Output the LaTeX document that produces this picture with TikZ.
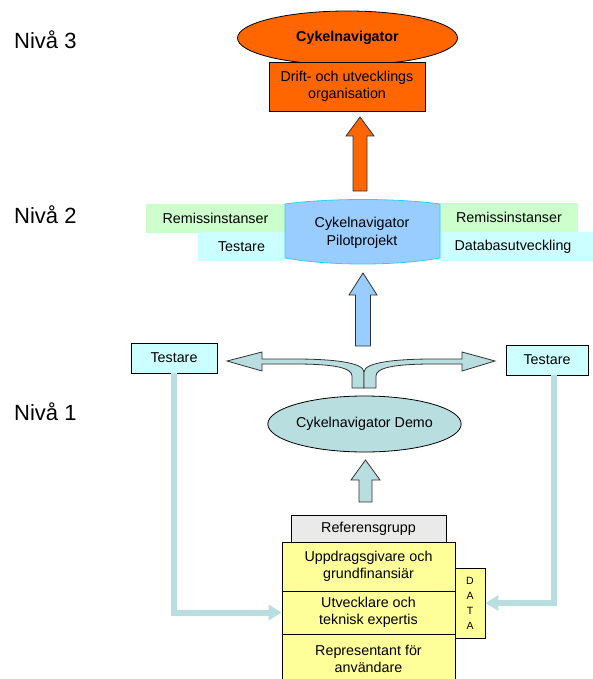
\documentclass[tikz,border=0pt]{standalone}
\usepackage{fontspec}
\setmainfont{Liberation Sans}
\usetikzlibrary{shapes.geometric,arrows.meta}

\definecolor{driftorange}{HTML}{FF6600}
\definecolor{pilotblue}{HTML}{99CCFF}
\definecolor{pilotline}{HTML}{33CCFF}
\definecolor{remgreen}{HTML}{CCFFCC}
\definecolor{testcyan}{HTML}{CCFFFF}
\definecolor{demoteal}{HTML}{B8DEE0}
\definecolor{refgray}{HTML}{EAEAEA}
\definecolor{stackyellow}{HTML}{FFFF99}

\tikzset{
  txt/.style={font=\fontsize{14.3}{17.5}\selectfont, align=center},
  level/.style={font=\fontsize{22}{24}\selectfont, anchor=west, inner sep=0pt},
  flat/.style={txt, rectangle, inner sep=0pt},
  box/.style={flat, draw=black, line width=0.8pt},
  blockarrow/.style={draw=black!80, line width=0.8pt, line join=miter},
  conn/.style={demoteal, line width=6pt, -{Triangle[length=13pt,width=15pt]}}
}

\begin{document}
\begin{tikzpicture}[x=1pt,y=-1pt]
    \clip (0,0) rectangle (593,679);

    % levels
    \node[level] (niva3) at (14,40) {Nivå 3};
    \node[level] (niva2) at (14,215) {Nivå 2};
    \node[level] (niva1) at (14,412) {Nivå 1};

    % level 3
    \node[ellipse, draw=black, line width=0.8pt, fill=driftorange,
        minimum width=220, minimum height=54, inner sep=0pt,
        font=\fontsize{14.3}{17}\selectfont\bfseries] (cykel) at (347.5,38) {Cykelnavigator};
    \node[box, fill=driftorange, minimum width=156, minimum height=49]
        (drift) at (347,86.5) {Drift- och utvecklings\\organisation};
    \draw [blockarrow, fill=driftorange] (353,191) -- (353,136) -- (346,136)
        -- (360,117) -- (374,136) -- (367,136) -- (367,191) -- cycle;

    % level 2
    \node[flat, fill=remgreen, minimum width=139, minimum height=29]
        (remL) at (215.5,218.5) {Remissinstanser};
    \node[flat, fill=testcyan, minimum width=87, minimum height=29]
        (testP) at (241.5,246.5) {Testare};
    \node[flat, fill=remgreen, minimum width=138, minimum height=29]
        (remR) at (509,217.5) {Remissinstanser};
    \node[flat, fill=testcyan, minimum width=153, minimum height=29]
        (datab) at (516.5,246.5) {\hspace*{-7pt}Databasutveckling};
    \draw [pilotline, line width=0.8pt, fill=pilotblue] (285,204)
        .. controls (330,198) and (395,198) .. (440,204) -- (440,258)
        .. controls (395,266) and (330,266) .. (285,258) -- cycle;
    \node[txt] (pilot) at (362,233) {Cykelnavigator\\Pilotprojekt};
    \draw [blockarrow, fill=pilotblue] (355.5,346) -- (355.5,295) -- (349,295)
        -- (363,273) -- (377,295) -- (370.5,295) -- (370.5,346) -- cycle;

    % level 1
    \node[box, fill=testcyan, minimum width=86, minimum height=30]
        (testL) at (174,358) {Testare};
    \node[box, fill=testcyan, minimum width=82, minimum height=30]
        (testR) at (547,360) {Testare};

    \draw [blockarrow, fill=demoteal] (364,388) -- (364,372)
        .. controls (364,362) and (330,359) .. (295,359) -- (262,359)
        -- (262,352) -- (227,361) -- (262,371) -- (262,364) -- (295,364)
        .. controls (335,364) and (352,368) .. (352,376) -- (352,388) -- cycle;
    \draw [blockarrow, fill=demoteal] (364,388) -- (364,372)
        .. controls (364,362) and (398,359) .. (433,359) -- (462,359)
        -- (462,352) -- (495,361) -- (462,371) -- (462,364) -- (433,364)
        .. controls (393,364) and (376,368) .. (376,376) -- (376,388) -- cycle;

    \node[ellipse, draw=black, line width=0.8pt, fill=demoteal, txt,
        minimum width=185, minimum height=56, inner sep=0pt]
        (demo) at (364.5,424) {Cykelnavigator Demo};
    \draw [blockarrow, fill=demoteal] (359,502) -- (359,480) -- (351,480)
        -- (365.5,460) -- (380,480) -- (372,480) -- (372,502) -- cycle;

    % project group
    \node[box, fill=refgray, minimum width=155, minimum height=27]
        (refgrp) at (368.5,528.5) {Referensgrupp};
    \node[box, fill=stackyellow, minimum width=173, minimum height=49]
        (uppdrag) at (368.5,566.5) {Uppdragsgivare och\\grundfinansiär};
    \node[box, fill=stackyellow, minimum width=173, minimum height=43]
        (utveckl) at (368.5,612.5) {Utvecklare och\\teknisk expertis};
    \node[box, fill=stackyellow, minimum width=173, minimum height=50]
        (repr) at (368.5,659) {Representant för\\användare};
    \node[box, fill=stackyellow, minimum width=30, minimum height=70,
        font=\fontsize{10.5}{15}\selectfont] (data) at (470,603) {D\\A\\T\\A};

    \draw [conn] (testL.south) |- (utveckl.west);
    \draw [conn] ([xshift=7pt]testR.south) |- (data.east);
\end{tikzpicture}
\end{document}
